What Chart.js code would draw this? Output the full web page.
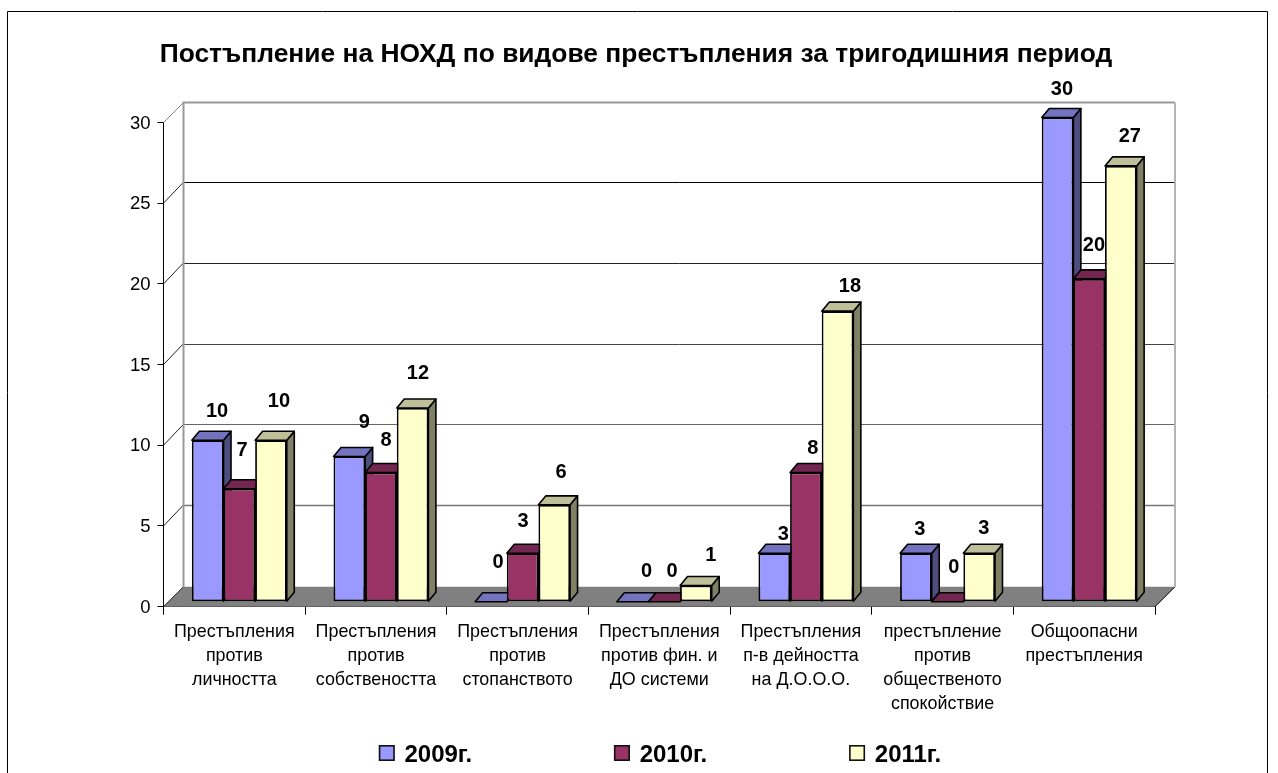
<!DOCTYPE html>
<html><head><meta charset="utf-8">
<style>html,body{margin:0;padding:0;background:#fff;overflow:hidden}canvas{display:block}</style>
<script src="https://cdn.jsdelivr.net/npm/chart.js@4"></script></head>
<body><canvas id="c" width="1278" height="773"></canvas>
<script>
const categories=[["Престъпления","против","личността"],["Престъпления","против","собствеността"],["Престъпления","против","стопанството"],["Престъпления","против фин. и","ДО системи"],["Престъпления","п-в дейността","на Д.О.О.О."],["престъпление","против","общественото","спокойствие"],["Общоопасни","престъпления"]];
const seriesNames=["2009г.","2010г.","2011г."];
const values2009=[10,9,0,0,3,3,30];
const values2010=[7,8,3,0,8,0,20];
const values2011=[10,12,6,1,18,3,27];
const yTicks=[0,5,10,15,20,25,30];
const titleText="Постъпление на НОХД по видове престъпления за тригодишния период";
// styling
const FONT="'Liberation Sans',Arial,sans-serif";
const FRONT=["#9999FF","#993366","#FFFFCC"],TOP=["#7373BF","#732650","#BFBF99"],SIDE=["#4D4D80","#4D1A33","#808066"];
const WALL=20,GRIDWALL=21,INSET=5,DX=7.5,DY=9,LEG_PAD=143.5,LEG_SHIFT=83.3;
const GRIDSTYLE={5:['#777',1.6],10:['#666',1.2],15:['#444',1],20:['#222',1],25:['#000',1]};
// hand placed label offsets from the front-top centre of each bar [dx,dy]
const LS={0:[[9.4,-29],[15,-33.5],[7,-39],[14,-30],[9,-19],[4,-24],[4.4,-28]],
          1:[[2.7,-38],[5,-31.6],[0.4,-32],[7.7,-30],[7,-24],[6.4,-34],[4.7,-33]],
          2:[[8,-39],[5.4,-35],[6.7,-32],[15,-30],[12.4,-25],[4.7,-25],[9,-29]]};
const plugin3d={id:'p3d',
 beforeLayout(ch){const L=ch.legend;if(!L._wrapped){const f=L.fit.bind(L);L.fit=function(){f();this.height=50.3;};L._wrapped=true;}},
 afterLayout(ch){const L=ch.legend,T=ch.titleBlock;L.left+=LEG_SHIFT;L.right+=LEG_SHIFT;L.top=743-LEG_PAD;T.left+=58.5;T.right+=58.5;},
 beforeDraw(ch){const c=ch.ctx;c.save();c.fillStyle='#fff';c.fillRect(0,0,ch.width,ch.height);
  c.strokeStyle='#000';c.lineWidth=1;c.beginPath();c.moveTo(7.5,773);c.lineTo(7.5,11.5);c.lineTo(1267.5,11.5);c.lineTo(1267.5,773);c.stroke();c.restore();},
 beforeDatasetsDraw(ch){const c=ch.ctx,y=ch.scales.y,a=ch.chartArea;c.save();
  const bx0=a.left+WALL,bx1=a.right+WALL,top=y.getPixelForValue(30)-WALL,bot=y.getPixelForValue(0);
  // floor
  c.fillStyle='#808080';c.beginPath();c.moveTo(a.left,bot);c.lineTo(a.right,bot);c.lineTo(bx1,bot-WALL);c.lineTo(bx0,bot-WALL);c.closePath();c.fill();
  c.strokeStyle='#000';c.lineWidth=1;c.beginPath();c.moveTo(a.right,bot);c.lineTo(bx1,bot-WALL);c.stroke();
  // back wall grid and left wall diagonals
  yTicks.forEach(v=>{const p=y.getPixelForValue(v);
    c.lineWidth=1;c.strokeStyle=v===30?'#888':'#222';c.beginPath();c.moveTo(a.left,p);c.lineTo(bx0,v===30||v===0?p-WALL:p-GRIDWALL);c.stroke();
    if(GRIDSTYLE[v]){const g=Math.round(p-GRIDWALL)+.5;c.strokeStyle=GRIDSTYLE[v][0];c.lineWidth=GRIDSTYLE[v][1];c.beginPath();c.moveTo(bx0,g);c.lineTo(bx1,g);c.stroke();}});
  c.lineWidth=2;c.strokeStyle='#999';c.beginPath();c.moveTo(bx0,bot-WALL);c.lineTo(bx0,top);c.lineTo(bx1,top);c.stroke();
  c.strokeStyle='#b4b4b4';c.beginPath();c.moveTo(bx1,top);c.lineTo(bx1,bot-WALL);c.stroke();
  // bar sides and tops, left to right
  const cnt=categories.length;
  c.strokeStyle='#000';c.lineWidth=1.6;c.lineJoin='round';
  for(let i=0;i<cnt;i++)for(let d=0;d<3;d++){
    const b=ch.getDatasetMeta(d).data[i];const l=b.x-b.width/2+INSET,r=b.x+b.width/2+INSET,t=b.y-INSET,bt=b.base-INSET;
    if(b.base-b.y>0.5){c.fillStyle=SIDE[d];c.beginPath();c.moveTo(r,t);c.lineTo(r+DX,t-DY);c.lineTo(r+DX,bt-DY);c.lineTo(r,bt);c.closePath();c.fill();c.stroke();}
    c.fillStyle=TOP[d];c.beginPath();c.moveTo(l,t);c.lineTo(l+DX,t-DY);c.lineTo(r+DX,t-DY);c.lineTo(r,t);c.closePath();c.fill();c.stroke();
  }
  c.translate(INSET,-INSET);
 },
 afterDatasetsDraw(ch){const c=ch.ctx;c.restore();c.save();c.fillStyle='#000';c.font="bold 20px "+FONT;c.textAlign='center';c.textBaseline='middle';
  ch.data.datasets.forEach((ds,d)=>ch.getDatasetMeta(d).data.forEach((b,i)=>{c.fillText(String(ds.data[i]),b.x+INSET+LS[d][i][0],b.y-INSET+LS[d][i][1]);}));
  c.restore();},
 afterDraw(ch){const c=ch.ctx;c.save();c.lineWidth=1.6;c.strokeStyle='#111';
  ch.legend.legendHitBoxes.forEach((h,i)=>{const x=h.left-1.7;c.fillStyle=FRONT[i];c.fillRect(x,745,16,16);c.strokeRect(x+.8,745.8,14.4,14.4);});
  c.restore();}
};
new Chart(document.getElementById('c'),{type:'bar',
 data:{labels:categories,datasets:seriesNames.map((n,i)=>({label:n,data:[values2009,values2010,values2011][i],backgroundColor:FRONT[i],borderColor:'#000',borderWidth:1.8,borderSkipped:false,clip:false,categoryPercentage:0.67,barPercentage:1}))},
 options:{responsive:false,animation:false,events:[],
  layout:{padding:{left:0,right:123,top:0,bottom:0}},
  plugins:{tooltip:{enabled:false},
   title:{display:true,text:titleText,color:'#000',font:{family:FONT,size:26.4,weight:'bold',lineHeight:1.2},padding:{top:39,bottom:51.8}},
   legend:{position:'bottom',labels:{color:'#000',boxWidth:12,boxHeight:9,padding:LEG_PAD,font:{family:FONT,size:24,weight:'bold'}}}},
  scales:{
   x:{grid:{drawOnChartArea:false,drawTicks:true,tickLength:8,color:'#000',offset:true},border:{color:'#000'},
      ticks:{color:'#000',font:{family:FONT,size:17.9,lineHeight:1.34},maxRotation:0,autoSkip:false,padding:5},afterFit(s){s.height=116;}},
   y:{min:0,max:30,afterBuildTicks(s){s.ticks=yTicks.map(v=>({value:v}));},grid:{drawOnChartArea:false,drawTicks:true,tickLength:6,color:'#000'},border:{color:'#000'},
      ticks:{color:'#000',font:{family:FONT,size:18.5},padding:7,labelOffset:1},afterFit(s){s.width=163.5;}}
  }},
 plugins:[plugin3d]});
</script></body></html>
